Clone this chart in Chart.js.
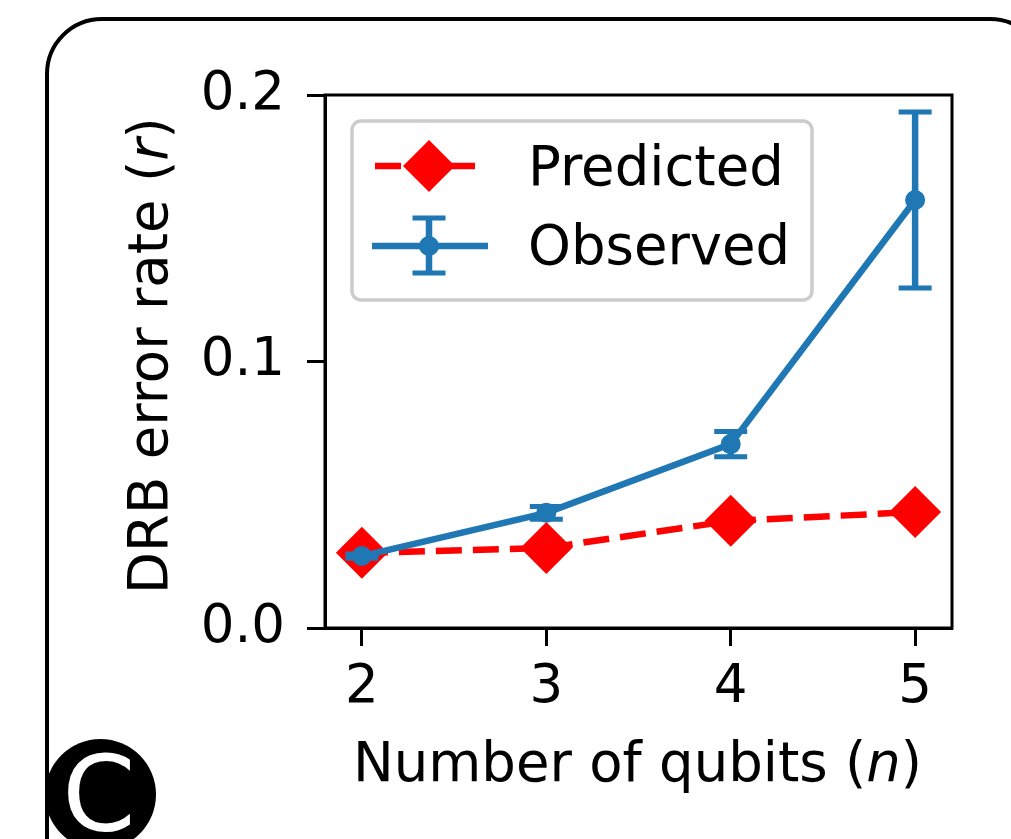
<!DOCTYPE html>
<html>
<head>
<meta charset="utf-8">
<script src="https://cdn.jsdelivr.net/npm/chart.js@4/dist/chart.umd.min.js"></script>
<style>
  html, body { margin: 0; padding: 0; background: #fff; overflow: hidden; }
  canvas { display: block; }
</style>
</head>
<body>
<canvas id="c" width="1011" height="839"></canvas>
<script>
// Error rate versus system size: predicted values and observed values with uncertainties
const qubits = [2, 3, 4, 5];
const predicted = [0.0282, 0.0300, 0.0402, 0.0435];
const observed = [0.0270, 0.0432, 0.0690, 0.1606];
const observedErr = [0.0008, 0.0024, 0.0047, 0.0330];
const yTicks = [0.0, 0.1, 0.2];
const seriesNames = ['Predicted', 'Observed'];
const xTitle = ['Number of qubits (', 'n', ')'];
const yTitle = ['DRB error rate (', 'r', ')'];
const panelLetter = 'C';

const FAMILY = '"DejaVu Sans", "Liberation Sans", sans-serif';
const FS = 53;      // tick labels
const FS_TXT = 54.5; // legend and axis titles
const RED = '#ff0000';
const BLUE = '#1f77b4';
const LW = 6.5;

// Draws text made of [normal, italic, normal] pieces, centred on cx
function richText(ctx, parts, cx, y) {
  const fonts = [`${FS_TXT}px ${FAMILY}`, `italic ${FS_TXT}px ${FAMILY}`, `${FS_TXT}px ${FAMILY}`];
  let total = 0;
  const widths = parts.map((p, i) => { ctx.font = fonts[i]; const w = ctx.measureText(p).width; total += w; return w; });
  let x = cx - total / 2;
  ctx.textAlign = 'left';
  ctx.textBaseline = 'alphabetic';
  parts.forEach((p, i) => { ctx.font = fonts[i]; ctx.fillText(p, x, y); x += widths[i]; });
}

const decor = {
  id: 'decor',
  beforeDraw(chart) {
    const ctx = chart.ctx;
    ctx.save();
    // rounded panel frame
    ctx.strokeStyle = '#000';
    ctx.lineWidth = 4;
    ctx.beginPath();
    ctx.roundRect(47, 19, 998, 900, 55);
    ctx.stroke();
    ctx.restore();
  },
  afterDatasetsDraw(chart) {
    const ctx = chart.ctx;
    const xs = chart.scales.x, ys = chart.scales.y;
    ctx.save();
    ctx.strokeStyle = BLUE;
    observed.forEach((v, i) => {
      const x = xs.getPixelForValue(qubits[i]);
      const yt = ys.getPixelForValue(v + observedErr[i]);
      const yb = ys.getPixelForValue(v - observedErr[i]);
      ctx.lineWidth = LW;
      ctx.beginPath(); ctx.moveTo(x, yt); ctx.lineTo(x, yb); ctx.stroke();
      ctx.lineWidth = 5;
      ctx.beginPath();
      ctx.moveTo(x - 16.5, yt); ctx.lineTo(x + 16.5, yt);
      ctx.moveTo(x - 16.5, yb); ctx.lineTo(x + 16.5, yb);
      ctx.stroke();
    });
    ctx.restore();
  },
  afterDraw(chart) {
    const ctx = chart.ctx;
    const a = chart.chartArea;
    ctx.save();
    // axes box
    ctx.strokeStyle = '#000';
    ctx.lineWidth = 3;
    ctx.strokeRect(a.left, a.top, a.right - a.left, a.bottom - a.top);

    // legend
    const lx = a.left + 27, ly = a.top + 26;
    ctx.fillStyle = 'rgba(255,255,255,0.8)';
    ctx.strokeStyle = '#cccccc';
    ctx.lineWidth = 3.5;
    ctx.beginPath();
    ctx.roundRect(lx, ly, 460, 179, 9);
    ctx.fill();
    ctx.stroke();

    const sx = lx + 77; // symbol centre
    // Predicted entry
    const py = ly + 45;
    ctx.strokeStyle = RED;
    ctx.lineWidth = LW;
    ctx.setLineDash([26, 11]);
    ctx.beginPath(); ctx.moveTo(lx + 23, py); ctx.lineTo(lx + 128, py); ctx.stroke();
    ctx.setLineDash([]);
    ctx.fillStyle = RED;
    ctx.beginPath();
    ctx.moveTo(sx - 26, py); ctx.lineTo(sx, py - 26); ctx.lineTo(sx + 26, py); ctx.lineTo(sx, py + 26);
    ctx.closePath(); ctx.fill();

    // Observed entry
    const oy = ly + 125;
    ctx.strokeStyle = BLUE;
    ctx.lineWidth = LW;
    ctx.beginPath(); ctx.moveTo(lx + 20, oy); ctx.lineTo(lx + 136, oy); ctx.stroke();
    ctx.beginPath(); ctx.moveTo(sx, oy - 28); ctx.lineTo(sx, oy + 27); ctx.stroke();
    ctx.lineWidth = 5;
    ctx.beginPath();
    ctx.moveTo(sx - 16.5, oy - 28); ctx.lineTo(sx + 16.5, oy - 28);
    ctx.moveTo(sx - 16.5, oy + 27); ctx.lineTo(sx + 16.5, oy + 27);
    ctx.stroke();
    ctx.fillStyle = BLUE;
    ctx.beginPath(); ctx.arc(sx, oy, 10, 0, Math.PI * 2); ctx.fill();

    ctx.fillStyle = '#000';
    ctx.font = `${FS_TXT}px ${FAMILY}`;
    ctx.textAlign = 'left';
    ctx.textBaseline = 'alphabetic';
    ctx.fillText(chart.data.datasets[0].label, lx + 176, ly + 64);
    ctx.fillText(chart.data.datasets[1].label, lx + 176, ly + 143);

    // axis titles
    richText(ctx, xTitle, (a.left + a.right) / 2 - 1, 781);
    ctx.save();
    ctx.translate(167, (a.top + a.bottom) / 2 - 6);
    ctx.rotate(-Math.PI / 2);
    richText(ctx, yTitle, 0, 0);
    ctx.restore();

    // panel letter badge
    ctx.fillStyle = '#000';
    ctx.beginPath(); ctx.arc(100.5, 794.5, 55.5, 0, Math.PI * 2); ctx.fill();
    ctx.fillStyle = '#fff';
    ctx.font = `105px ${FAMILY}`;
    ctx.textAlign = 'center';
    ctx.fillText(panelLetter, 99, 831);
    ctx.restore();
  }
};

const tickFont = { family: FAMILY, size: FS };
const gridOpts = { drawOnChartArea: false, drawTicks: true, tickLength: 18, tickWidth: 3, tickColor: '#000' };

new Chart(document.getElementById('c'), {
  type: 'line',
  data: {
    datasets: [
      {
        label: seriesNames[0],
        data: qubits.map((q, i) => ({ x: q, y: predicted[i] })),
        borderColor: RED,
        backgroundColor: RED,
        borderWidth: LW,
        borderDash: [26, 11],
        tension: 0,
        fill: false,
        pointStyle: 'rectRot',
        pointRadius: 26,
        pointBorderWidth: 0,
        pointBackgroundColor: RED,
        order: 1
      },
      {
        label: seriesNames[1],
        data: qubits.map((q, i) => ({ x: q, y: observed[i] })),
        borderColor: BLUE,
        backgroundColor: BLUE,
        borderWidth: LW,
        tension: 0,
        fill: false,
        pointStyle: 'circle',
        pointRadius: 10,
        pointBorderWidth: 0,
        pointBackgroundColor: BLUE,
        order: 0
      }
    ]
  },
  options: {
    responsive: false,
    animation: false,
    devicePixelRatio: 1,
    layout: { padding: { left: 0, top: 95, right: 59, bottom: 0 } },
    plugins: { legend: { display: false }, tooltip: { enabled: false } },
    scales: {
      x: {
        type: 'linear',
        min: 1.8,
        max: 5.2,
        afterBuildTicks: s => { s.ticks = qubits.map(v => ({ value: v })); },
        afterFit: s => { s.height = 211; },
        ticks: { font: tickFont, color: '#000', padding: 10, maxRotation: 0, autoSkip: false, callback: v => String(v) },
        grid: gridOpts,
        border: { display: true, color: '#000', width: 3 }
      },
      y: {
        type: 'linear',
        min: 0,
        max: 0.2,
        afterBuildTicks: s => { s.ticks = yTicks.map(v => ({ value: v })); },
        afterFit: s => { s.width = 325; },
        ticks: { font: tickFont, color: '#000', padding: 22, callback: v => v.toFixed(1) },
        grid: gridOpts,
        border: { display: true, color: '#000', width: 3 }
      }
    }
  },
  plugins: [decor]
});
</script>
</body>
</html>
